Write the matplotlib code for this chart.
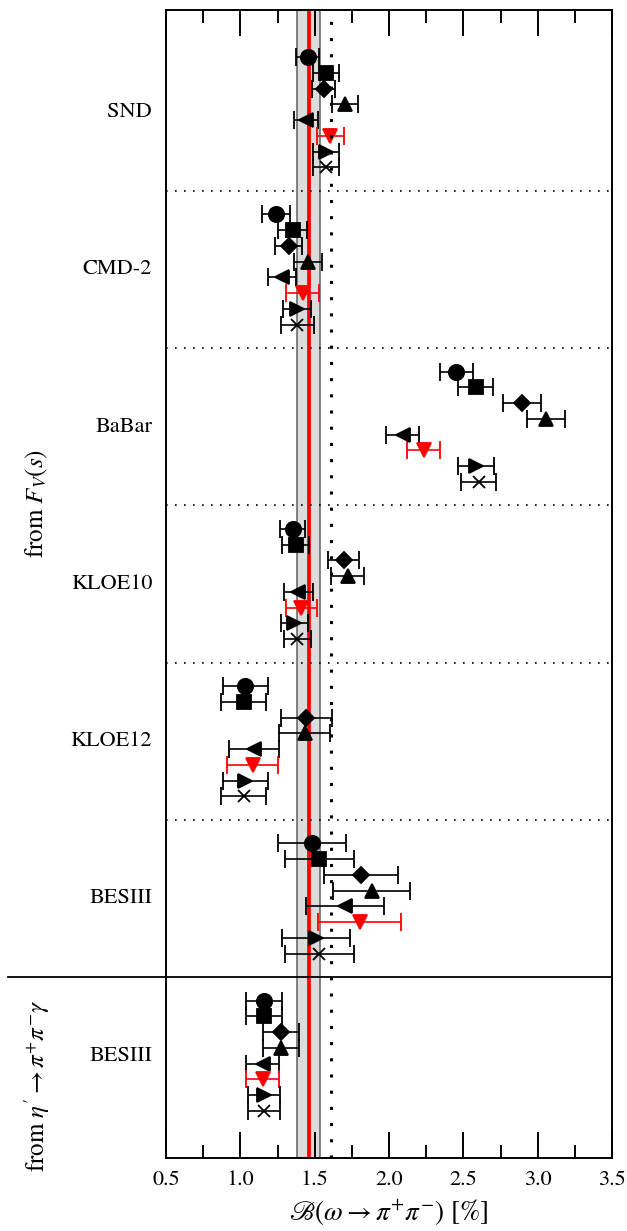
import numpy as np
import matplotlib
matplotlib.use('Agg')
import matplotlib.pyplot as plt
from matplotlib.ticker import MultipleLocator, FormatStrFormatter

plt.rcParams['font.family'] = 'STIXGeneral'
plt.rcParams['mathtext.fontset'] = 'stix'

# Experiments (top to bottom) and the branching ratio [%] for each method
experiments = ['SND', 'CMD-2', 'BaBar', 'KLOE10', 'KLOE12', 'BESIII', 'BESIII']

snd_val = [1.452, 1.576, 1.560, 1.701, 1.442, 1.605, 1.575, 1.576]
snd_err = [0.080, 0.090, 0.075, 0.087, 0.078, 0.090, 0.086, 0.086]
cmd2_val = [1.240, 1.351, 1.325, 1.455, 1.281, 1.420, 1.382, 1.384]
cmd2_err = [0.092, 0.097, 0.090, 0.097, 0.095, 0.110, 0.095, 0.109]
babar_val = [2.452, 2.582, 2.894, 3.055, 2.092, 2.233, 2.583, 2.602]
babar_err = [0.110, 0.120, 0.129, 0.128, 0.111, 0.112, 0.120, 0.118]
kloe10_val = [1.351, 1.372, 1.694, 1.722, 1.390, 1.410, 1.363, 1.383]
kloe10_err = [0.087, 0.092, 0.107, 0.111, 0.099, 0.103, 0.090, 0.092]
kloe12_val = [1.033, 1.022, 1.444, 1.433, 1.092, 1.082, 1.033, 1.022]
kloe12_err = [0.150, 0.150, 0.172, 0.172, 0.171, 0.172, 0.150, 0.150]
besiii_val = [1.482, 1.532, 1.812, 1.883, 1.702, 1.802, 1.510, 1.532]
besiii_err = [0.231, 0.230, 0.248, 0.260, 0.261, 0.280, 0.230, 0.230]
etap_val = [1.160, 1.160, 1.272, 1.272, 1.151, 1.150, 1.160, 1.160]
etap_err = [0.120, 0.120, 0.120, 0.120, 0.111, 0.112, 0.109, 0.109]

all_vals = [snd_val, cmd2_val, babar_val, kloe10_val, kloe12_val, besiii_val, etap_val]
all_errs = [snd_err, cmd2_err, babar_err, kloe10_err, kloe12_err, besiii_err, etap_err]

# combined result (red line with grey band) and reference value (dotted)
comb_val = 1.464
comb_lo, comb_hi = 1.383, 1.538
ref_val = 1.611

# one marker style per method
markers = ['o', 's', 'D', '^', '<', 'v', '>', 'x']
sizes = [11, 10, 8, 10.5, 10.5, 10.5, 10.5, 8]
colors = ['k', 'k', 'k', 'k', 'k', 'red', 'k', 'k']

fig = plt.figure(figsize=(6.27, 12.31), dpi=100)
ax = fig.add_axes([0.2648, 0.0593, 0.7113, 0.9326])

ax.axvspan(comb_lo, comb_hi, facecolor='#dcdcdc', edgecolor='#606060', lw=1.1, zorder=0)
ax.axvline(comb_val, color='red', lw=2.7, zorder=1)
ax.axvline(ref_val, color='k', lw=2.2, linestyle=(0, (1, 4.3)), zorder=5)

for g, (vals, errs) in enumerate(zip(all_vals, all_errs)):
    for j in range(len(vals)):
        y = 3 + 10 * g + j
        ax.errorbar(vals[j], y, xerr=errs[j], fmt=markers[j], color=colors[j],
                    ms=sizes[j], mew=1.3, elinewidth=1.2, capsize=6.5, capthick=1.6, zorder=3)
    ax.text(-0.031, 3 + 10 * g + 3.5, experiments[g], transform=ax.get_yaxis_transform(),
            ha='right', va='center', fontsize=16)

# separators between experiments
for g in range(1, 6):
    ax.axhline(10 * g + 1.5, color='k', lw=1.2, linestyle=(0, (1, 4.4)), zorder=2)
ax.plot([-0.355, 1.0], [61.5, 61.5], color='k', lw=1.3, transform=ax.get_yaxis_transform(),
        clip_on=False, zorder=6)

ax.text(-0.29, 31.4, r'from $F_V(s)$', transform=ax.get_yaxis_transform(), rotation=90,
        ha='center', va='center', fontsize=18)
ax.text(-0.29, 68.4, r"from $\eta'\rightarrow\pi^{+}\pi^{-}\gamma$",
        transform=ax.get_yaxis_transform(), rotation=90, ha='center', va='center', fontsize=18)

ax.set_xlim(0.5, 3.5)
ax.set_ylim(73, 0)
ax.set_yticks([])
ax.xaxis.set_major_locator(MultipleLocator(0.5))
ax.xaxis.set_minor_locator(MultipleLocator(0.25))
ax.xaxis.set_major_formatter(FormatStrFormatter('%.1f'))
ax.tick_params(axis='x', which='both', direction='in', top=True, bottom=True, width=1.4)
ax.tick_params(axis='x', which='major', length=18.5, pad=9, labelsize=16)
ax.tick_params(axis='x', which='minor', length=9.5)
for s in ax.spines.values():
    s.set_linewidth(1.4)
ax.set_xlabel(r'$\mathscr{B}(\omega\rightarrow\pi^{+}\pi^{-})$ [%]', fontsize=19.5, labelpad=5)

fig.savefig('out.png', dpi=100)
